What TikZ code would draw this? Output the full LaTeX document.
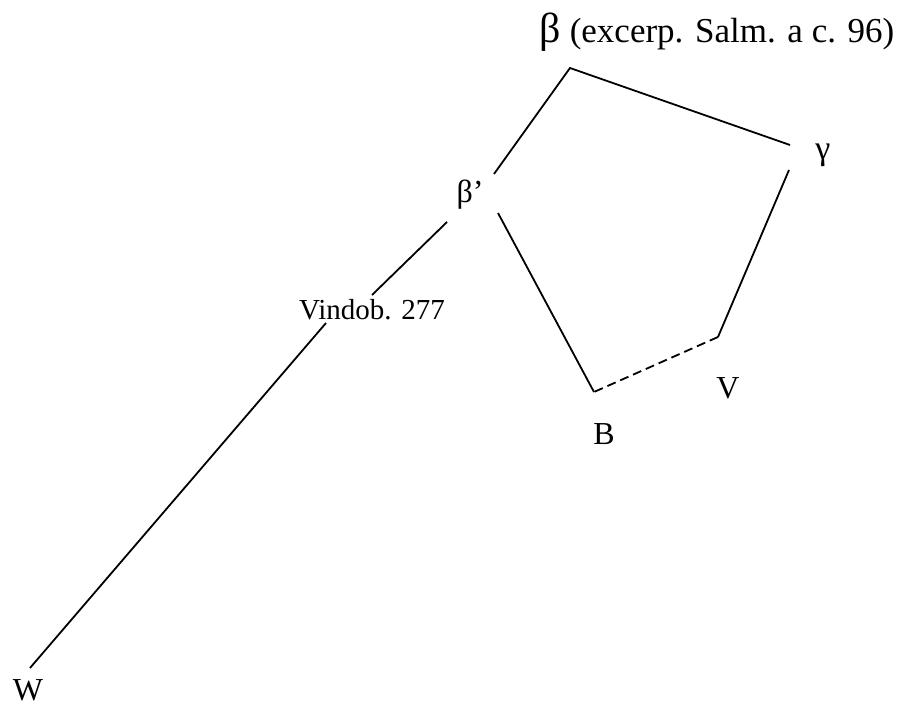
\documentclass[tikz,border=0pt]{standalone}
\usepackage{fontspec}
\setmainfont{Liberation Serif}

\begin{document}
\begin{tikzpicture}[x=0.5pt,y=-0.5pt,
    font=\fontsize{14.5}{17}\selectfont,
    sigla/.style={font=\fontsize{16}{19}\selectfont},
    stemma/.style={line width=0.9pt},
    lost/.style={line width=0.9pt, dash pattern=on 4.5pt off 2.5pt}]

  % Marco
  \useasboundingbox (0,0) rectangle (901,705);

  % Etiquetas
  \node[font=\fontsize{17.5}{20}\selectfont] (beta) at (717,32)
    {{\fontsize{21}{21}\selectfont β} (excerp. Salm. a c. 96)};
  \node[font=\fontsize{17}{20}\selectfont] (gamma) at (823,155) {γ};
  \node[sigla] (betap) at (470,195) {β’};
  \node (vindob) at (372,310) {Vindob. 277};
  \node[sigla] (vv) at (728,388) {V};
  \node[sigla] (bb) at (604,434) {B};
  \node[sigla] (ww) at (28,690) {W};

  % Puntos de unión
  \coordinate (top) at (570,68);
  \coordinate (vcorner) at (718,337);
  \coordinate (bcorner) at (594,392);
  \coordinate (betap-ne) at (494,174);
  \coordinate (betap-se) at (498,213);
  \coordinate (betap-sw) at (447,222);
  \coordinate (gamma-w) at (790,145);
  \coordinate (gamma-sw) at (789,170);
  \coordinate (vindob-n) at (372,295);
  \coordinate (vindob-sw) at (326,323);
  \coordinate (ww-n) at (30,668);

  % Ramas
  \draw[stemma]
    (betap-ne) -- (top) -- (gamma-w);

  \draw[stemma]
    (gamma-sw) -- (vcorner);

  \draw[lost]
    (vcorner) -- (bcorner);

  \draw[stemma]
    (bcorner) -- (betap-se);

  \draw[stemma]
    (betap-sw) -- (vindob-n);

  \draw[stemma]
    (vindob-sw) -- (ww-n);

\end{tikzpicture}
\end{document}
